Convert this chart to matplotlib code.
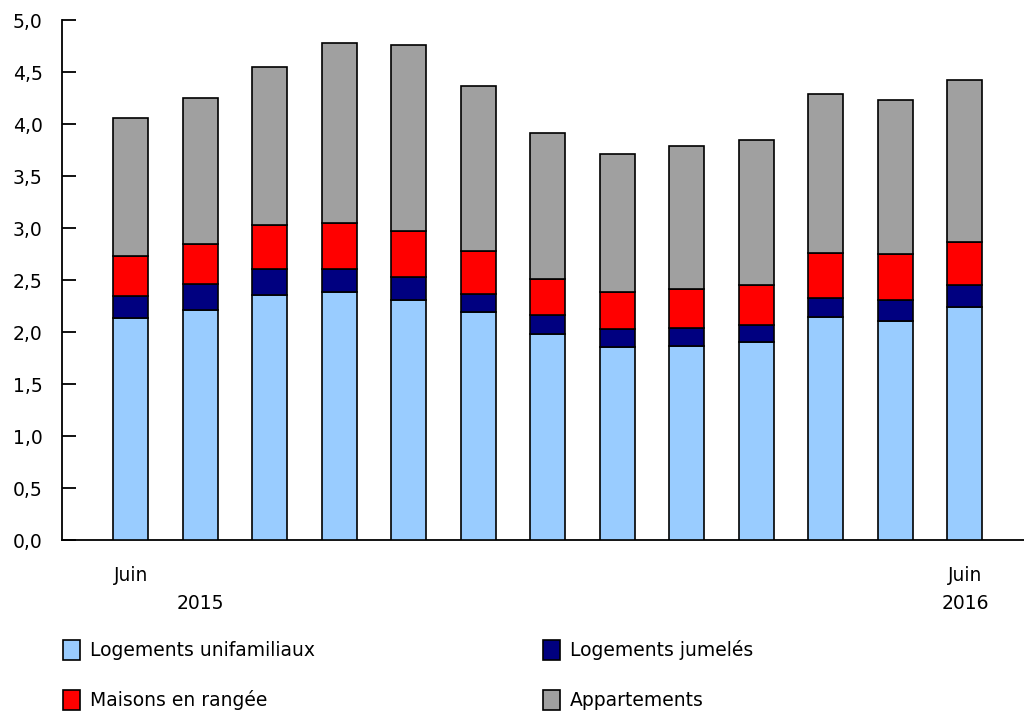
import matplotlib.pyplot as plt
import numpy as np
from matplotlib.patches import Rectangle

# values (stacked components)
months = ['Juin', '', '', '', '', '', '', '', '', '', '', '', 'Juin']
unifamiliaux = [2.13, 2.21, 2.36, 2.38, 2.31, 2.19, 1.98, 1.86, 1.87, 1.90, 2.14, 2.11, 2.24]
jumeles = [0.22, 0.25, 0.25, 0.23, 0.22, 0.18, 0.18, 0.17, 0.17, 0.17, 0.19, 0.20, 0.21]
rangee = [0.38, 0.39, 0.42, 0.44, 0.44, 0.41, 0.35, 0.35, 0.37, 0.38, 0.43, 0.44, 0.42]
appartements = [1.33, 1.40, 1.52, 1.73, 1.79, 1.59, 1.40, 1.33, 1.38, 1.40, 1.53, 1.48, 1.55]
years = [(1, '2015'), (12, '2016')]

series = [
    ('Logements unifamiliaux', unifamiliaux, '#99CCFF'),
    ('Logements jumelés', jumeles, '#000080'),
    ('Maisons en rangée', rangee, '#FF0000'),
    ('Appartements', appartements, '#A0A0A0'),
]

fs = 13.5
plt.rcParams['font.family'] = ['DejaVu Sans']
plt.rcParams['font.size'] = fs

fig = plt.figure(figsize=(10.24, 7.11), dpi=100)
ax = fig.add_axes([62 / 1024, 1 - 540 / 711, 1 - 62 / 1024, 520 / 711])

x = np.arange(len(months))
bottom = np.zeros(len(months))
for name, vals, col in series:
    ax.bar(x, vals, width=0.505, bottom=bottom, color=col, edgecolor='black',
           linewidth=1.2, label=name, zorder=3)
    bottom += np.array(vals)

ax.set_xlim(-0.99, 12.85)
ax.set_ylim(0, 5)
ax.set_yticks(np.arange(0, 5.01, 0.5))
ax.set_yticklabels([f"{v:.1f}".replace('.', ',') for v in np.arange(0, 5.01, 0.5)])
ax.set_xticks(x)
ax.set_xticklabels(months)
ax.tick_params(axis='y', direction='in', length=10, width=1.3, pad=14, labelsize=fs)
ax.tick_params(axis='x', length=0, pad=19, labelsize=fs)

for s in ['top', 'right']:
    ax.spines[s].set_visible(False)
ax.spines['left'].set_linewidth(1.3)
ax.spines['bottom'].set_linewidth(1.3)

for pos, yr in years:
    ax.text(pos, -0.123, yr, transform=ax.get_xaxis_transform(),
            ha='center', va='center', fontsize=fs)

# legend, two columns below the chart
legend_pos = [(63, 650), (543, 650), (63, 700), (543, 700)]
for (px, py), (name, vals, col) in zip(legend_pos, series):
    fig.add_artist(Rectangle((px / 1024, 1 - (py + 10) / 711), 17 / 1024, 20 / 711,
                             transform=fig.transFigure, facecolor=col,
                             edgecolor='black', linewidth=1.2))
    fig.text((px + 27) / 1024, 1 - py / 711, name, ha='left', va='center', fontsize=fs)

fig.savefig('out.png', dpi=100)
